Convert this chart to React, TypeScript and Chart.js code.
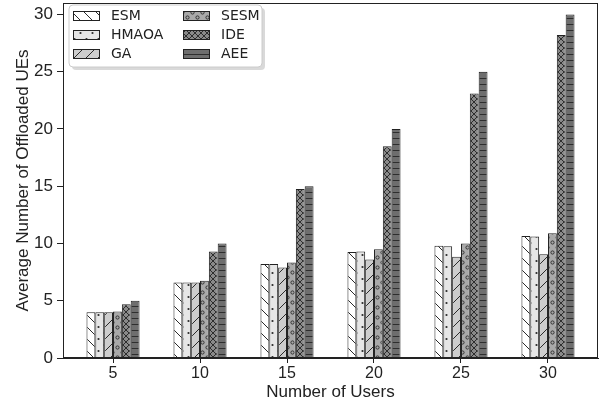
import React, { useEffect, useRef } from "react";
import { Chart, registerables } from "chart.js";

Chart.register(...registerables);

const USERS = ["5", "10", "15", "20", "25", "30"];
const SERIES_NAMES = ["ESM", "HMAOA", "GA", "SESM", "IDE", "AEE"];
const ESM = [4.0, 6.6, 8.2, 9.25, 9.8, 10.65];
const HMAOA = [4.0, 6.6, 8.2, 9.3, 9.75, 10.6];
const GA = [4.0, 6.6, 7.9, 8.6, 8.85, 9.05];
const SESM = [4.05, 6.75, 8.35, 9.5, 10.0, 10.9];
const IDE = [4.7, 9.3, 14.75, 18.5, 23.1, 28.2];
const AEE = [5.0, 10.0, 15.0, 20.0, 25.0, 30.0];
const Y_TICKS = [0, 5, 10, 15, 20, 25, 30];

const INK = "#222222";

function makePattern(kind: string): CanvasPattern | string {
  const c = document.createElement("canvas");
  const ctx = c.getContext("2d")!;
  const line = (x1: number, y1: number, x2: number, y2: number) => {
    ctx.beginPath();
    ctx.moveTo(x1, y1);
    ctx.lineTo(x2, y2);
    ctx.stroke();
  };
  ctx.strokeStyle = "#2a2a2a";
  ctx.fillStyle = "#2a2a2a";
  ctx.lineWidth = 1;
  if (kind === "ESM" || kind === "GA") {
    const s = 12;
    c.width = s; c.height = s;
    ctx.fillStyle = kind === "ESM" ? "#ffffff" : "#cdcdcd";
    ctx.fillRect(0, 0, s, s);
    ctx.strokeStyle = "#2a2a2a";
    if (kind === "ESM") {
      line(-2, -2, s + 2, s + 2);
      line(-2, s - 2, 2, s + 2);
      line(s - 2, -2, s + 2, 2);
    } else {
      line(-2, s + 2, s + 2, -2);
      line(-2, 2, 2, -2);
      line(s - 2, s + 2, s + 2, s - 2);
    }
  } else if (kind === "HMAOA") {
    const s = 12;
    c.width = s; c.height = s;
    ctx.fillStyle = "#e6e6e6";
    ctx.fillRect(0, 0, s, s);
    ctx.fillStyle = "#2a2a2a";
    ctx.beginPath(); ctx.arc(2.5, 3, 1.1, 0, Math.PI * 2); ctx.fill();
    ctx.beginPath(); ctx.arc(8.5, 9, 1.1, 0, Math.PI * 2); ctx.fill();
  } else if (kind === "SESM") {
    const s = 10;
    c.width = s; c.height = s;
    ctx.fillStyle = "#a9a9a9";
    ctx.fillRect(0, 0, s, s);
    ctx.strokeStyle = "#333333";
    ctx.beginPath(); ctx.arc(2.5, 2.5, 1.6, 0, Math.PI * 2); ctx.stroke();
    ctx.beginPath(); ctx.arc(7.5, 7.5, 1.6, 0, Math.PI * 2); ctx.stroke();
  } else if (kind === "IDE") {
    const s = 6;
    c.width = s; c.height = s;
    ctx.fillStyle = "#8a8a8a";
    ctx.fillRect(0, 0, s, s);
    ctx.strokeStyle = "#2e2e2e";
    line(-1, -1, s + 1, s + 1);
    line(-1, s + 1, s + 1, -1);
  } else {
    const s = 6;
    c.width = s; c.height = s;
    ctx.fillStyle = "#6e6e6e";
    ctx.fillRect(0, 0, s, s);
    ctx.strokeStyle = "#2e2e2e";
    line(0, 0.5, s, 0.5);
  }
  const p = ctx.createPattern(c, "repeat");
  return p || "#999";
}

const framePlugin = {
  id: "frameAndLegend",
  afterDraw(chart: any) {
    const { ctx, chartArea } = chart;
    ctx.save();
    ctx.strokeStyle = INK;
    ctx.lineWidth = 1;
    ctx.strokeRect(
      Math.round(chartArea.left) + 0.5,
      Math.round(chartArea.top) + 0.5,
      Math.round(chartArea.right - chartArea.left) - 1,
      Math.round(chartArea.bottom - chartArea.top) - 1
    );
    // legend
    const bx = 69, by = 5, bw = 193, bh = 62;
    const rr = (x: number, y: number, w: number, h: number, r: number) => {
      ctx.beginPath();
      ctx.moveTo(x + r, y);
      ctx.lineTo(x + w - r, y);
      ctx.quadraticCurveTo(x + w, y, x + w, y + r);
      ctx.lineTo(x + w, y + h - r);
      ctx.quadraticCurveTo(x + w, y + h, x + w - r, y + h);
      ctx.lineTo(x + r, y + h);
      ctx.quadraticCurveTo(x, y + h, x, y + h - r);
      ctx.lineTo(x, y + r);
      ctx.quadraticCurveTo(x, y, x + r, y);
      ctx.closePath();
    };
    rr(bx + 3, by + 3, bw, bh, 4);
    ctx.fillStyle = "rgba(0,0,0,0.15)";
    ctx.fill();
    rr(bx, by, bw, bh, 4);
    ctx.fillStyle = "#ffffff";
    ctx.fill();
    ctx.strokeStyle = "#cccccc";
    ctx.stroke();
    const datasets = chart.data.datasets;
    ctx.font = '14px "DejaVu Sans"';
    ctx.textBaseline = "middle";
    ctx.textAlign = "left";
    datasets.forEach((ds: any, i: number) => {
      const col = Math.floor(i / 3);
      const row = i % 3;
      const sx = col === 0 ? 73 : 183;
      const cy = 16 + row * 19;
      ctx.fillStyle = ds.backgroundColor;
      ctx.fillRect(sx, cy - 5, 27, 10);
      ctx.strokeStyle = INK;
      ctx.strokeRect(sx + 0.5, cy - 4.5, 26, 9);
      ctx.fillStyle = INK;
      ctx.fillText(ds.label, sx + 38, cy + 0.5);
    });
    ctx.restore();
  },
};

export default function App() {
  const ref = useRef<HTMLCanvasElement>(null);
  useEffect(() => {
    document.body.style.margin = "0";
    const seriesValues = [ESM, HMAOA, GA, SESM, IDE, AEE];
    const datasets = SERIES_NAMES.map((name, i) => ({
      label: name,
      data: seriesValues[i].map((v, j) => ({ x: j, y: v })),
      backgroundColor: makePattern(name) as any,
      borderColor: INK,
      borderWidth: 1,
      barPercentage: 1,
      categoryPercentage: 0.61,
    }));
    const chart = new Chart(ref.current!, {
      type: "bar",
      data: { datasets },
      options: {
        animation: false,
        responsive: false,
        maintainAspectRatio: false,
        layout: { padding: { top: 3, right: 12, left: 0, bottom: 0 } },
        plugins: { legend: { display: false }, tooltip: { enabled: false } },
        scales: {
          x: {
            type: "linear",
            offset: false,
            min: -0.575,
            max: 5.575,
            afterBuildTicks: (s: any) => {
              s.ticks = USERS.map((_, i) => ({ value: i }));
            },
            afterFit: (s: any) => {
              s.height = 45;
              s.paddingLeft = 0;
              s.paddingRight = 0;
            },
            ticks: {
              color: INK,
              font: { family: "Liberation Sans", size: 16 },
              padding: 1,
              callback: (v: any) => USERS[Math.round(v)] ?? "",
            },
            grid: { drawOnChartArea: false, drawTicks: true, tickLength: 5, color: INK, offset: false },
            border: { display: true, color: INK },
            title: {
              display: true,
              text: "Number of Users",
              color: INK,
              font: { family: "Liberation Sans", size: 17 },
              padding: { top: 0, bottom: 0 },
            },
          },
          y: {
            min: 0,
            max: 31,
            afterBuildTicks: (s: any) => {
              s.ticks = Y_TICKS.map((v) => ({ value: v }));
            },
            afterFit: (s: any) => {
              s.width = 63;
              s.paddingTop = 0;
              s.paddingBottom = 0;
            },
            ticks: {
              color: INK,
              font: { family: "Liberation Sans", size: 17 },
              padding: 4,
            },
            grid: { drawOnChartArea: false, drawTicks: true, tickLength: 6, color: INK },
            border: { display: true, color: INK },
            title: {
              display: true,
              text: "Average Number of Offloaded UEs",
              color: INK,
              font: { family: "Liberation Sans", size: 17 },
              padding: { top: 13, bottom: 0 },
            },
          },
        },
      },
      plugins: [framePlugin],
    });
    return () => chart.destroy();
  }, []);
  return <canvas ref={ref} width={610} height={403} style={{ display: "block" }} />;
}
